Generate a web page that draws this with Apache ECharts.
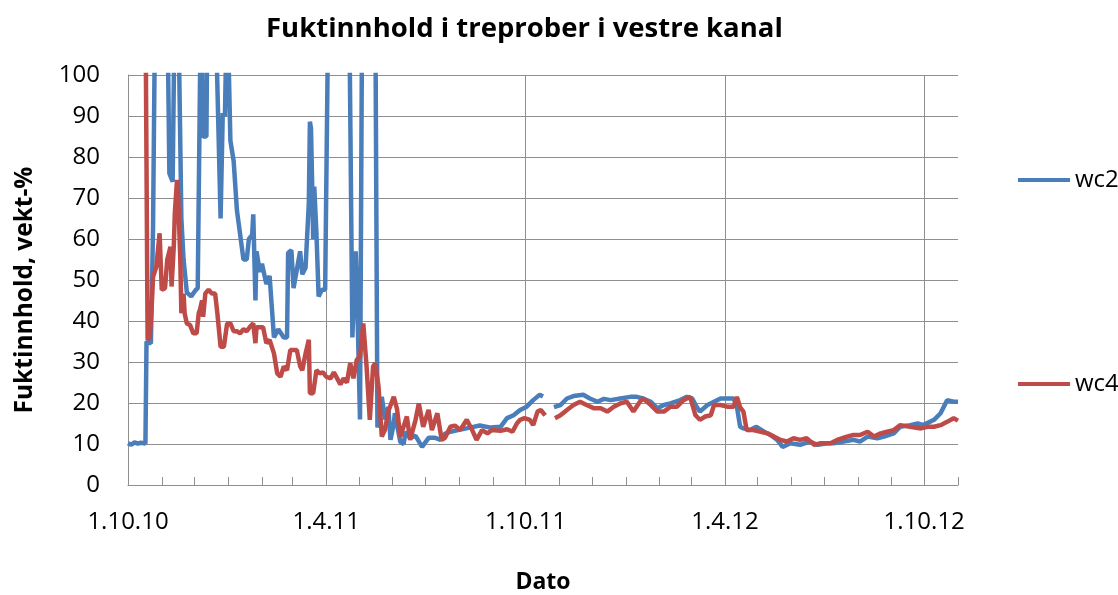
<!DOCTYPE html>
<html><head><meta charset="utf-8">
<script src="https://cdn.jsdelivr.net/npm/echarts@6/dist/echarts.min.js"></script>
<style>html,body{margin:0;padding:0;background:#fff}#c{width:1118px;height:595px}</style>
</head><body><div id="c"></div>
<script>
const chartTitle = 'Fuktinnhold i treprober i vestre kanal';
const yAxisName = 'Fuktinnhold, vekt-%';
const xAxisName = 'Dato';
const firstDate = '1.10.10';
const lastDate = '1.11.12';
const tickLabels = ['1.10.10', '1.4.11', '1.10.11', '1.4.12', '1.10.12'];
const seriesNames = ['wc2', 'wc4'];

// values above 100 are off the chart (clipped at the top)
const wc2 = [
['1.10.10',10.2],['4.10.10',9.8],['7.10.10',10.4],['10.10.10',10.1],['13.10.10',10.3],['17.10.10',10.1],
['18.10.10',35],['22.10.10',34.5],['23.10.10',48],['24.10.10',63],['26.10.10',120],['6.11.10',120],
['8.11.10',76],['11.11.10',74],['13.11.10',120],['16.11.10',120],['19.11.10',65],['21.11.10',55],
['24.11.10',47],['28.11.10',46],['2.12.10',47.5],['4.12.10',48],['7.12.10',120],['9.12.10',85],
['12.12.10',85],['13.12.10',120],['20.12.10',120],['25.12.10',65],['27.12.10',90.7],['29.12.10',90],
['31.12.10',120],['3.1.11',84],['6.1.11',79],['9.1.11',67],['10.1.11',65],['15.1.11',55],['18.1.11',55],
['20.1.11',60],['23.1.11',61],['24.1.11',66],['26.1.11',45],['27.1.11',57],['30.1.11',52],['1.2.11',54],
['5.2.11',49],['8.2.11',51],['12.2.11',36],['16.2.11',38],['21.2.11',36],['24.2.11',36],['25.2.11',56.6],
['28.2.11',57.3],['2.3.11',48],['8.3.11',57],['10.3.11',51.4],['13.3.11',53],['16.3.11',68.7],
['17.3.11',88.6],['18.3.11',87],['19.3.11',74.4],['20.3.11',60],['21.3.11',72.8],['23.3.11',61.4],
['25.3.11',46],['28.3.11',47.6],['31.3.11',47.6],['3.4.11',120],['22.4.11',120],['25.4.11',36],
['28.4.11',57],['29.4.11',50],['2.5.11',16],['4.5.11',120],['16.5.11',120],['18.5.11',14],['21.5.11',18],
['22.5.11',21.5],['25.5.11',16],['28.5.11',19],['30.5.11',11],['2.6.11',15],['3.6.11',17.5],['8.6.11',10.5],
['11.6.11',10],['13.6.11',13],['17.6.11',11.5],['22.6.11',12],['28.6.11',9.3],['4.7.11',11.5],
['10.7.11',11.5],['15.7.11',11],['19.7.11',12.5],['24.7.11',13],['2.8.11',13.5],['11.8.11',14],
['20.8.11',14.5],['30.8.11',14],['8.9.11',14.2],['14.9.11',16.3],['20.9.11',17],['26.9.11',18.3],
['2.10.11',19.1],['8.10.11',20.7],['14.10.11',22],['17.10.11',21.6],['20.10.11',null],['27.10.11',19],
['2.11.11',19.5],['8.11.11',21.1],['14.11.11',21.7],['23.11.11',22],['29.11.11',21.1],['6.12.11',20.3],
['12.12.11',21],['18.12.11',20.7],['27.12.11',21.1],['5.1.12',21.5],['11.1.12',21.5],['17.1.12',21.1],
['24.1.12',20.3],['30.1.12',18.7],['5.2.12',19.5],['11.2.12',19.9],['20.2.12',20.7],['26.2.12',21.5],
['2.3.12',21.1],['6.3.12',19.1],['9.3.12',17.9],['16.3.12',19.5],['22.3.12',20.3],['28.3.12',21.1],
['3.4.12',21.1],['9.4.12',21.1],['12.4.12',19.1],['15.4.12',14.2],['18.4.12',13.8],['24.4.12',13.4],
['30.4.12',14.2],['7.5.12',13],['13.5.12',12.2],['19.5.12',11],['24.5.12',9.3],['31.5.12',10.2],
['9.6.12',9.8],['18.6.12',10.6],['25.6.12',9.8],['4.7.12',10.2],['10.7.12',10.2],['19.7.12',10.6],
['28.7.12',11],['3.8.12',10.6],['10.8.12',11.8],['19.8.12',11.4],['25.8.12',11.8],['3.9.12',12.6],
['9.9.12',14.2],['18.9.12',14.6],['25.9.12',15],['30.9.12',14.6],['10.10.12',15.9],['16.10.12',17.5],
['22.10.12',20.7],['28.10.12',20.3],['1.11.12',20.3]
];

const wc4 = [
['17.10.10',120],['19.10.10',35.4],['21.10.10',36],['23.10.10',45],['24.10.10',50.8],['27.10.10',53.2],
['30.10.10',61.4],['1.11.10',47.6],['4.11.10',48],['6.11.10',54.9],['9.11.10',58.1],['10.11.10',48.4],
['12.11.10',58],['13.11.10',66.3],['15.11.10',74.4],['16.11.10',71.1],['18.11.10',55],['19.11.10',41.9],
['21.11.10',46.7],['22.11.10',41.9],['24.11.10',39.4],['27.11.10',39],['30.11.10',37],['3.12.10',37],
['5.12.10',42],['6.12.10',42.7],['8.12.10',45],['9.12.10',41],['11.12.10',46.7],['14.12.10',47.6],
['17.12.10',46.7],['20.12.10',46.7],['22.12.10',42],['25.12.10',33.7],['28.12.10',33.7],['31.12.10',39.4],
['3.1.11',39.4],['6.1.11',37.5],['9.1.11',37.5],['12.1.11',37],['15.1.11',38],['18.1.11',37.5],
['21.1.11',38.6],['24.1.11',39.4],['26.1.11',34.6],['27.1.11',38.5],['30.1.11',38.5],['2.2.11',38.5],
['5.2.11',34.6],['8.2.11',35.4],['12.2.11',32.1],['15.2.11',27.2],['18.2.11',26.4],['21.2.11',28.9],
['24.2.11',28],['27.2.11',32.9],['5.3.11',32.9],['8.3.11',29],['10.3.11',28],['13.3.11',32],
['16.3.11',35.4],['17.3.11',22.4],['20.3.11',22.4],['23.3.11',28],['26.3.11',27.2],['29.3.11',27.5],
['1.4.11',26.4],['5.4.11',26],['8.4.11',27.5],['11.4.11',26],['14.4.11',24.5],['17.4.11',26],
['20.4.11',25],['23.4.11',29.7],['26.4.11',26],['29.4.11',30.5],['2.5.11',31.3],['5.5.11',39.4],
['8.5.11',29],['11.5.11',15.9],['14.5.11',28.9],['16.5.11',29.7],['19.5.11',24],['22.5.11',11.8],
['25.5.11',13.5],['28.5.11',18],['2.6.11',21.5],['5.6.11',18.5],['8.6.11',11.8],['14.6.11',16.7],
['17.6.11',11],['22.6.11',15.9],['25.6.11',19.9],['29.6.11',14.2],['4.7.11',18.3],['7.7.11',13.4],
['12.7.11',17.5],['16.7.11',11],['19.7.11',11.5],['24.7.11',14.2],['28.7.11',14.5],['2.8.11',13.4],
['8.8.11',15.9],['13.8.11',13.4],['17.8.11',11],['22.8.11',13.4],['27.8.11',12.6],['31.8.11',13.4],
['8.9.11',13.2],['14.9.11',13.6],['19.9.11',13],['23.9.11',15],['26.9.11',15.9],['30.9.11',16.3],
['5.10.11',15.9],['8.10.11',14.6],['12.10.11',17.9],['15.10.11',18.3],['19.10.11',17],['21.10.11',null],
['28.10.11',16.3],['2.11.11',17],['8.11.11',18.3],['14.11.11',19.5],['20.11.11',20.3],['26.11.11',19.5],
['3.12.11',18.7],['9.12.11',18.7],['15.12.11',17.9],['21.12.11',19.1],['27.12.11',19.9],['2.1.12',20.3],
['8.1.12',17.9],['14.1.12',20.3],['17.1.12',21.1],['24.1.12',19.5],['30.1.12',17.9],['5.2.12',17.9],
['11.2.12',19.1],['17.2.12',19.1],['23.2.12',20.7],['29.2.12',21.5],['5.3.12',17],['9.3.12',15.9],
['14.3.12',16.7],['19.3.12',17],['22.3.12',19.5],['28.3.12',19.5],['3.4.12',19.1],['9.4.12',19.1],
['12.4.12',21.5],['15.4.12',18.9],['18.4.12',17.9],['21.4.12',13.4],['27.4.12',13.4],['4.5.12',13],
['10.5.12',12.6],['16.5.12',11.8],['22.5.12',11],['28.5.12',10.6],['3.6.12',11.4],['9.6.12',11],
['15.6.12',11.4],['22.6.12',9.8],['28.6.12',10.2],['7.7.12',10.2],['13.7.12',11],['22.7.12',11.8],
['28.7.12',12.2],['3.8.12',12.2],['10.8.12',13],['16.8.12',11.8],['22.8.12',12.6],['28.8.12',13],
['3.9.12',13.4],['9.9.12',14.6],['18.9.12',14.2],['28.9.12',13.8],['4.10.12',14.2],['10.10.12',14.2],
['16.10.12',14.6],['22.10.12',15.4],['28.10.12',16.3],['1.11.12',15.7]
];

function parseDate(s){const p=s.split('.').map(Number);return Date.UTC(2000+p[2],p[1]-1,p[0]);}
function fmtDate(t){const d=new Date(t);return d.getUTCDate()+'.'+(d.getUTCMonth()+1)+'.'+String(d.getUTCFullYear()).slice(2);}
const categories=[];
for(let t=parseDate(firstDate);t<=parseDate(lastDate);t+=864e5){categories.push(fmtDate(t));}
const toData = arr => arr.map(p => [p[0], p[1]==null ? '-' : p[1]]);

const FONT = '"Open Sans", Lato, sans-serif';
const gridColor = '#8f8f8f';
const chart = echarts.init(document.getElementById('c'), null, {renderer:'canvas'});
chart.setOption({
  backgroundColor:'#fff',
  animation:false,
  title:{text:chartTitle,left:261,top:10,textStyle:{fontFamily:FONT,fontSize:27.5,fontWeight:'bold',color:'#000'}},
  legend:{data:seriesNames,orient:'vertical',left:1013,top:163,itemGap:180,icon:'rect',itemWidth:52,itemHeight:4,
    textStyle:{fontFamily:FONT,fontSize:24,color:'#000'}},
  grid:{left:128,top:75,right:160,bottom:110,containLabel:false,outerBoundsMode:'none'},
  xAxis:{type:'category',data:categories,boundaryGap:false,
    name:xAxisName,nameLocation:'middle',nameGap:86,nameTextStyle:{fontFamily:FONT,fontSize:23,fontWeight:'bold',color:'#000'},
    axisLine:{lineStyle:{color:gridColor,width:1}},
    axisTick:{show:true,inside:true,length:8,lineStyle:{color:gridColor},interval:(i,v)=>v.startsWith('1.')},
    axisLabel:{interval:(i,v)=>tickLabels.includes(v),fontFamily:FONT,fontSize:24,color:'#000',margin:25},
    splitLine:{show:true,interval:(i,v)=>tickLabels.includes(v),lineStyle:{color:gridColor,width:1}}},
  yAxis:{type:'value',min:0,max:100,interval:10,
    name:yAxisName,nameLocation:'middle',nameGap:90,nameRotate:90,
    nameTextStyle:{fontFamily:FONT,fontSize:24.5,fontWeight:'bold',color:'#000',padding:[0,20,0,0]},
    axisLine:{show:true,lineStyle:{color:gridColor,width:1}},axisTick:{show:false},
    axisLabel:{fontFamily:FONT,fontSize:24,color:'#000',margin:28},
    splitLine:{lineStyle:{color:gridColor,width:1}}},
  series:[
    {name:seriesNames[0],type:'line',data:toData(wc2),symbol:'none',clip:true,connectNulls:false,
      lineStyle:{color:'#4a7ebb',width:4.5},itemStyle:{color:'#4a7ebb'}},
    {name:seriesNames[1],type:'line',data:toData(wc4),symbol:'none',clip:true,connectNulls:false,
      lineStyle:{color:'#be4b48',width:4.5},itemStyle:{color:'#be4b48'}}
  ]
});
</script></body></html>
